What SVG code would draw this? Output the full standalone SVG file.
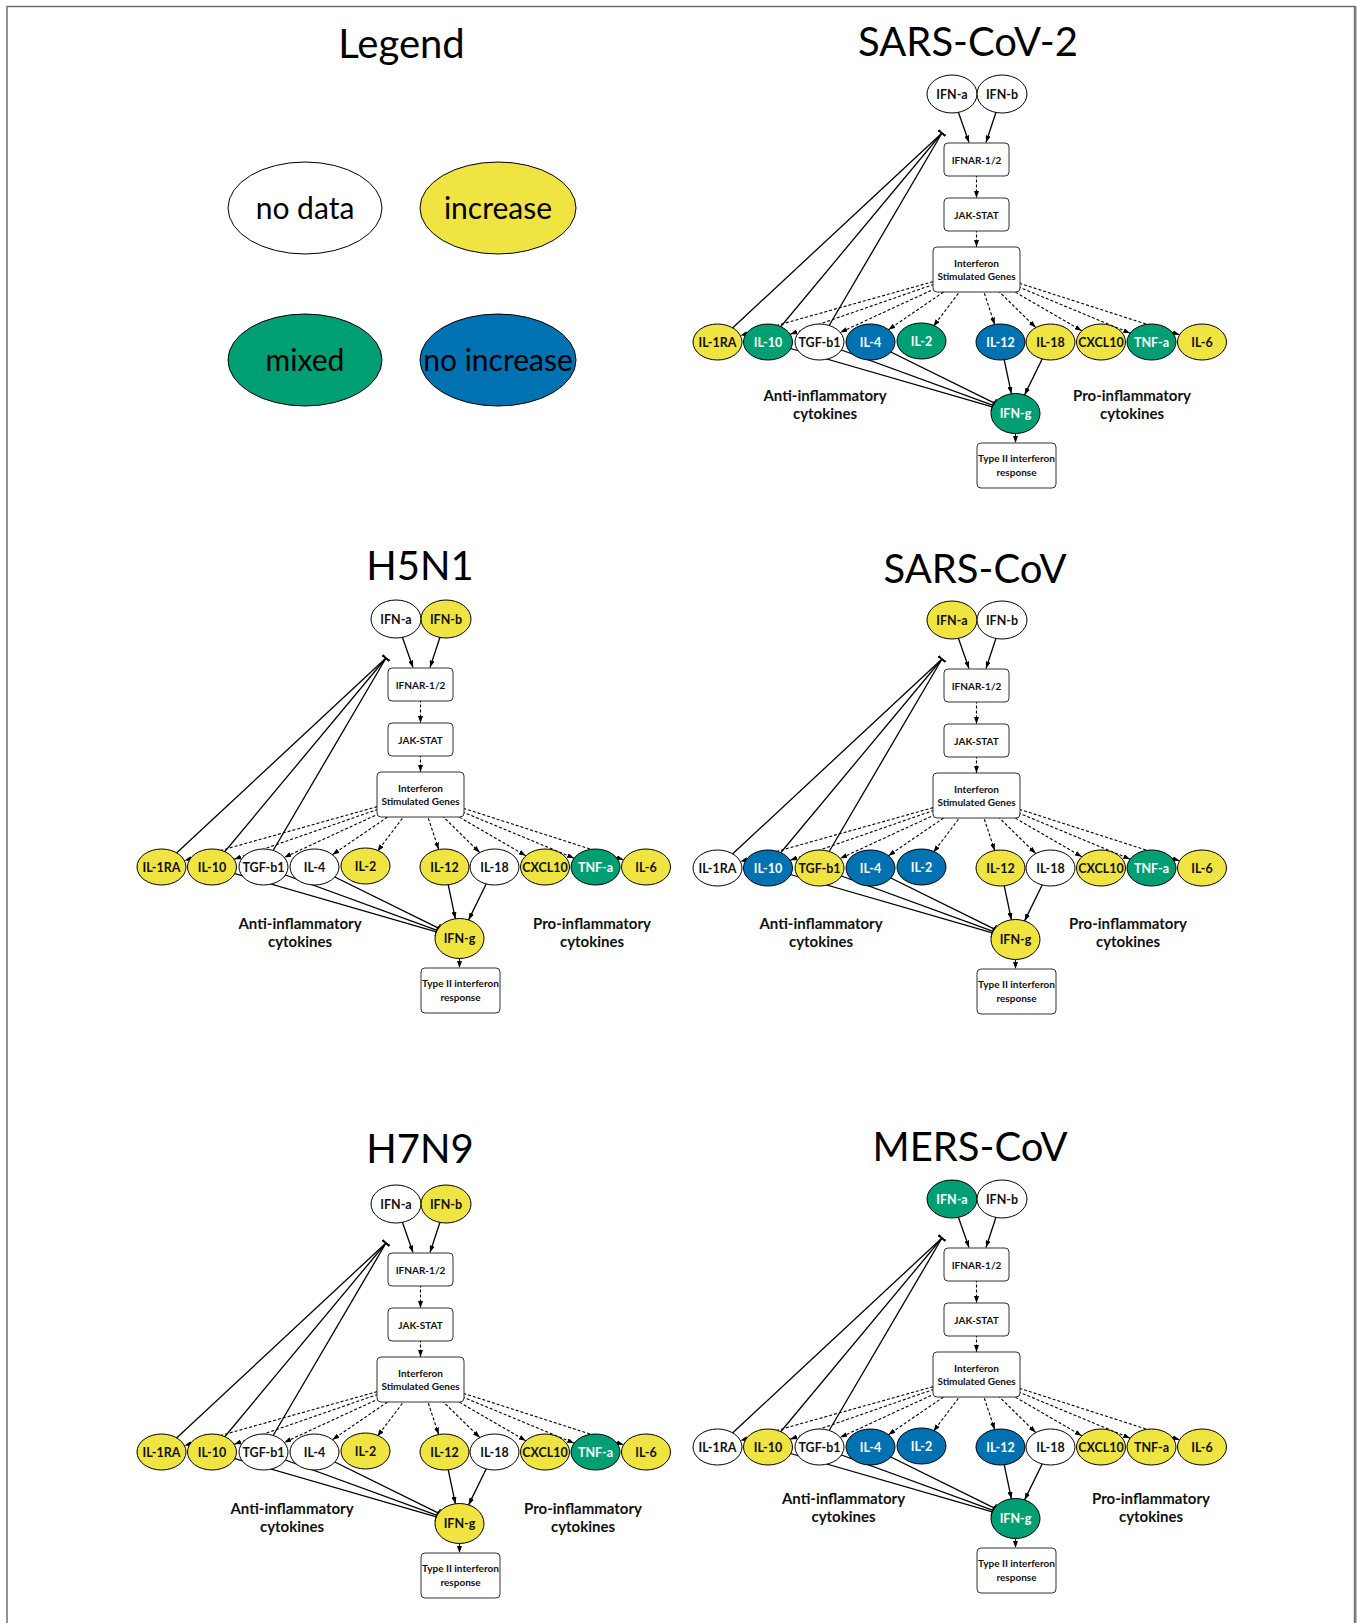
<svg xmlns="http://www.w3.org/2000/svg" width="1363" height="1623" viewBox="0 0 1363 1623">
<style>
.nd{fill:#fff;stroke:#000;stroke-width:1}
.y{fill:#F0E442;stroke:#000;stroke-width:1}
.gr{fill:#009E73;stroke:#000;stroke-width:1}
.bl{fill:#0072B2;stroke:#000;stroke-width:1}
.bx{fill:#fff;stroke:#333;stroke-width:1}
text{font-family:Lato,"Liberation Sans",sans-serif}
.t{font-size:12.5px;font-weight:bold;text-anchor:middle;fill:#111}
.tw{fill:#fff}
.bt{font-size:10px;font-weight:bold;text-anchor:middle;fill:#111}
.title{font-size:40px;text-anchor:middle;fill:#000}
.cat{font-size:15px;font-weight:bold;text-anchor:middle;fill:#111}
.lg{font-size:30px;text-anchor:middle;fill:#000}
.e{fill:none;stroke:#000;stroke-width:1.3}
.d{stroke-dasharray:3 2;stroke-width:1.1}
.a{marker-end:url(#ah)}
.i{marker-end:url(#tee)}
</style>
<defs>
<marker id="ah" viewBox="0 0 7 5" refX="7" refY="2.5" markerWidth="7" markerHeight="5" orient="auto" markerUnits="userSpaceOnUse"><path d="M0,0 L7,2.5 L0,5 Z" fill="#000"/></marker>
<marker id="tee" viewBox="0 0 2 9" refX="1.2" refY="4.5" markerWidth="2" markerHeight="9" orient="auto" markerUnits="userSpaceOnUse"><rect x="0.5" y="0" width="1.3" height="9" fill="#000"/></marker>
</defs>
<rect x="0" y="0" width="1363" height="1623" fill="#fff"/>
<rect x="7" y="6.5" width="1347.5" height="1640" fill="none" stroke="#707070" stroke-width="1.5"/>
<line x1="1355.5" y1="6" x2="1355.5" y2="1623" stroke="#808080" stroke-width="2"/>

<g id="titles">
<text class="title" x="401.5" y="58">Legend</text>
<text class="title" x="968" y="56">SARS-CoV-2</text>
<text class="title" x="420" y="580">H5N1</text>
<text class="title" x="975" y="583">SARS-CoV</text>
<text class="title" x="420" y="1163">H7N9</text>
<text class="title" x="970" y="1161">MERS-CoV</text>
</g>

<g id="legend">
<g id="lg-nodata"><ellipse class="nd" cx="305" cy="208" rx="77" ry="46"/><text class="lg" x="305" y="218.5">no data</text></g>
<g id="lg-increase"><ellipse class="y" cx="498" cy="208" rx="78" ry="46"/><text class="lg" x="498" y="218.5">increase</text></g>
<g id="lg-mixed"><ellipse class="gr" cx="305" cy="360" rx="77" ry="46"/><text class="lg tw" x="305" y="370.5">mixed</text></g>
<g id="lg-noincrease"><ellipse class="bl" cx="498" cy="360" rx="78" ry="46"/><text class="lg tw" x="498" y="370.5">no increase</text></g>
</g>

<g id="connectors">
<g id="c-sars2" transform="translate(0,0)">
<path class="e a" d="M952,94 L969,142.5"/><path class="e a" d="M1002,94 L986,142.5"/>
<path class="e d a" d="M976.5,159.5 V198"/><path class="e d a" d="M976.5,214.5 V247"/>
<path class="e d a" d="M976.5,269.5 L740.4,335.6"/><path class="e d a" d="M976.5,269.5 L790.1,334.3"/><path class="e d a" d="M976.5,269.5 L840.2,332.4"/><path class="e d a" d="M976.5,269.5 L888.4,329.7"/><path class="e d a" d="M976.5,269.5 L933.4,326.3"/><path class="e d a" d="M976.5,269.5 L994.7,324.5"/><path class="e d a" d="M976.5,269.5 L1035.8,327.6"/><path class="e d a" d="M976.5,269.5 L1081.8,330.8"/><path class="e d a" d="M976.5,269.5 L1130.2,333.2"/><path class="e d a" d="M976.5,269.5 L1179.6,334.8"/>
<path class="e a" d="M1000.5,342 L1011.4,393.8"/><path class="e a" d="M1050.5,342 L1024.6,394.9"/>
<path class="e d a" d="M1015.5,413.5 V443"/>
<path class="e i" d="M717.5,342 L942,133"/><path class="e i" d="M768,342 L942,133"/><path class="e i" d="M819.5,342 L942,133"/>
<path class="e i" d="M768,342 L992.4,406.8"/><path class="e i" d="M819.5,342 L993.1,405.3"/><path class="e i" d="M870.5,342 L994.5,403.2"/>
</g>
<g id="c-h5n1" transform="translate(-556,525)">
<path class="e a" d="M952,94 L969,142.5"/><path class="e a" d="M1002,94 L986,142.5"/>
<path class="e d a" d="M976.5,159.5 V198"/><path class="e d a" d="M976.5,214.5 V247"/>
<path class="e d a" d="M976.5,269.5 L740.4,335.6"/><path class="e d a" d="M976.5,269.5 L790.1,334.3"/><path class="e d a" d="M976.5,269.5 L840.2,332.4"/><path class="e d a" d="M976.5,269.5 L888.4,329.7"/><path class="e d a" d="M976.5,269.5 L933.4,326.3"/><path class="e d a" d="M976.5,269.5 L994.7,324.5"/><path class="e d a" d="M976.5,269.5 L1035.8,327.6"/><path class="e d a" d="M976.5,269.5 L1081.8,330.8"/><path class="e d a" d="M976.5,269.5 L1130.2,333.2"/><path class="e d a" d="M976.5,269.5 L1179.6,334.8"/>
<path class="e a" d="M1000.5,342 L1011.4,393.8"/><path class="e a" d="M1050.5,342 L1024.6,394.9"/>
<path class="e d a" d="M1015.5,413.5 V443"/>
<path class="e i" d="M717.5,342 L942,133"/><path class="e i" d="M768,342 L942,133"/><path class="e i" d="M819.5,342 L942,133"/>
<path class="e i" d="M768,342 L992.4,406.8"/><path class="e i" d="M819.5,342 L993.1,405.3"/><path class="e i" d="M870.5,342 L994.5,403.2"/>
</g>
<g id="c-sars" transform="translate(0,526)">
<path class="e a" d="M952,94 L969,142.5"/><path class="e a" d="M1002,94 L986,142.5"/>
<path class="e d a" d="M976.5,159.5 V198"/><path class="e d a" d="M976.5,214.5 V247"/>
<path class="e d a" d="M976.5,269.5 L740.4,335.6"/><path class="e d a" d="M976.5,269.5 L790.1,334.3"/><path class="e d a" d="M976.5,269.5 L840.2,332.4"/><path class="e d a" d="M976.5,269.5 L888.4,329.7"/><path class="e d a" d="M976.5,269.5 L933.4,326.3"/><path class="e d a" d="M976.5,269.5 L994.7,324.5"/><path class="e d a" d="M976.5,269.5 L1035.8,327.6"/><path class="e d a" d="M976.5,269.5 L1081.8,330.8"/><path class="e d a" d="M976.5,269.5 L1130.2,333.2"/><path class="e d a" d="M976.5,269.5 L1179.6,334.8"/>
<path class="e a" d="M1000.5,342 L1011.4,393.8"/><path class="e a" d="M1050.5,342 L1024.6,394.9"/>
<path class="e d a" d="M1015.5,413.5 V443"/>
<path class="e i" d="M717.5,342 L942,133"/><path class="e i" d="M768,342 L942,133"/><path class="e i" d="M819.5,342 L942,133"/>
<path class="e i" d="M768,342 L992.4,406.8"/><path class="e i" d="M819.5,342 L993.1,405.3"/><path class="e i" d="M870.5,342 L994.5,403.2"/>
</g>
<g id="c-h7n9" transform="translate(-556,1110)">
<path class="e a" d="M952,94 L969,142.5"/><path class="e a" d="M1002,94 L986,142.5"/>
<path class="e d a" d="M976.5,159.5 V198"/><path class="e d a" d="M976.5,214.5 V247"/>
<path class="e d a" d="M976.5,269.5 L740.4,335.6"/><path class="e d a" d="M976.5,269.5 L790.1,334.3"/><path class="e d a" d="M976.5,269.5 L840.2,332.4"/><path class="e d a" d="M976.5,269.5 L888.4,329.7"/><path class="e d a" d="M976.5,269.5 L933.4,326.3"/><path class="e d a" d="M976.5,269.5 L994.7,324.5"/><path class="e d a" d="M976.5,269.5 L1035.8,327.6"/><path class="e d a" d="M976.5,269.5 L1081.8,330.8"/><path class="e d a" d="M976.5,269.5 L1130.2,333.2"/><path class="e d a" d="M976.5,269.5 L1179.6,334.8"/>
<path class="e a" d="M1000.5,342 L1011.4,393.8"/><path class="e a" d="M1050.5,342 L1024.6,394.9"/>
<path class="e d a" d="M1015.5,413.5 V443"/>
<path class="e i" d="M717.5,342 L942,133"/><path class="e i" d="M768,342 L942,133"/><path class="e i" d="M819.5,342 L942,133"/>
<path class="e i" d="M768,342 L992.4,406.8"/><path class="e i" d="M819.5,342 L993.1,405.3"/><path class="e i" d="M870.5,342 L994.5,403.2"/>
</g>
<g id="c-mers" transform="translate(0,1105)">
<path class="e a" d="M952,94 L969,142.5"/><path class="e a" d="M1002,94 L986,142.5"/>
<path class="e d a" d="M976.5,159.5 V198"/><path class="e d a" d="M976.5,214.5 V247"/>
<path class="e d a" d="M976.5,269.5 L740.4,335.6"/><path class="e d a" d="M976.5,269.5 L790.1,334.3"/><path class="e d a" d="M976.5,269.5 L840.2,332.4"/><path class="e d a" d="M976.5,269.5 L888.4,329.7"/><path class="e d a" d="M976.5,269.5 L933.4,326.3"/><path class="e d a" d="M976.5,269.5 L994.7,324.5"/><path class="e d a" d="M976.5,269.5 L1035.8,327.6"/><path class="e d a" d="M976.5,269.5 L1081.8,330.8"/><path class="e d a" d="M976.5,269.5 L1130.2,333.2"/><path class="e d a" d="M976.5,269.5 L1179.6,334.8"/>
<path class="e a" d="M1000.5,342 L1011.4,393.8"/><path class="e a" d="M1050.5,342 L1024.6,394.9"/>
<path class="e d a" d="M1015.5,413.5 V443"/>
<path class="e i" d="M717.5,342 L942,133"/><path class="e i" d="M768,342 L942,133"/><path class="e i" d="M819.5,342 L942,133"/>
<path class="e i" d="M768,342 L992.4,406.8"/><path class="e i" d="M819.5,342 L993.1,405.3"/><path class="e i" d="M870.5,342 L994.5,403.2"/>
</g>
</g>

<g id="panel-sars2" transform="translate(0,0)">
<g id="sars2-ifna"><ellipse class="nd" cx="952" cy="94" rx="25" ry="19"/><text class="t" x="952" y="98.5">IFN-a</text></g>
<g id="sars2-ifnb"><ellipse class="nd" cx="1002" cy="94" rx="25" ry="19"/><text class="t" x="1002" y="98.5">IFN-b</text></g>
<g id="sars2-ifnar"><rect class="bx" x="944" y="143" width="65" height="33" rx="4"/><text class="bt" x="976.5" y="163.5">IFNAR-1/2</text></g>
<g id="sars2-jakstat"><rect class="bx" x="944" y="198" width="65" height="33" rx="4"/><text class="bt" x="976.5" y="218.5">JAK-STAT</text></g>
<g id="sars2-isg"><rect class="bx" x="933" y="247" width="87" height="45" rx="4"/><text class="bt" x="976.5" y="266.5">Interferon</text><text class="bt" x="976.5" y="280">Stimulated Genes</text></g>
<g id="sars2-il1ra"><ellipse class="y" cx="717.5" cy="342" rx="24.5" ry="18"/><text class="t" x="717.5" y="346.5">IL-1RA</text></g>
<g id="sars2-il10"><ellipse class="gr" cx="768" cy="342" rx="24.5" ry="18"/><text class="t tw" x="768" y="346.5">IL-10</text></g>
<g id="sars2-tgfb1"><ellipse class="nd" cx="819.5" cy="342" rx="24.5" ry="18"/><text class="t" x="819.5" y="346.5">TGF-b1</text></g>
<g id="sars2-il4"><ellipse class="bl" cx="870.5" cy="342" rx="24.5" ry="18"/><text class="t tw" x="870.5" y="346.5">IL-4</text></g>
<g id="sars2-il2"><ellipse class="gr" cx="921.5" cy="341" rx="24.5" ry="18"/><text class="t tw" x="921.5" y="345.5">IL-2</text></g>
<g id="sars2-il12"><ellipse class="bl" cx="1000.5" cy="342" rx="24.5" ry="18"/><text class="t tw" x="1000.5" y="346.5">IL-12</text></g>
<g id="sars2-il18"><ellipse class="y" cx="1050.5" cy="342" rx="24.5" ry="18"/><text class="t" x="1050.5" y="346.5">IL-18</text></g>
<g id="sars2-cxcl10"><ellipse class="y" cx="1101" cy="342" rx="24.5" ry="18"/><text class="t" x="1101" y="346.5">CXCL10</text></g>
<g id="sars2-tnfa"><ellipse class="gr" cx="1151.5" cy="342" rx="24.5" ry="18"/><text class="t tw" x="1151.5" y="346.5">TNF-a</text></g>
<g id="sars2-il6"><ellipse class="y" cx="1202" cy="342" rx="24.5" ry="18"/><text class="t" x="1202" y="346.5">IL-6</text></g>
<g id="sars2-ifng"><ellipse class="gr" cx="1015.5" cy="413.5" rx="24.5" ry="20"/><text class="t tw" x="1015.5" y="418">IFN-g</text></g>
<g id="sars2-type2"><rect class="bx" x="977" y="443" width="79" height="45" rx="4"/><text class="bt" x="1016.5" y="462">Type II interferon</text><text class="bt" x="1016.5" y="476">response</text></g>
<text class="cat" x="825" y="401">Anti-inflammatory</text><text class="cat" x="825" y="419">cytokines</text>
<text class="cat" x="1132" y="401">Pro-inflammatory</text><text class="cat" x="1132" y="419">cytokines</text>
</g>

<g id="panel-h5n1" transform="translate(-556,525)">
<g id="h5n1-ifna"><ellipse class="nd" cx="952" cy="94" rx="25" ry="19"/><text class="t" x="952" y="98.5">IFN-a</text></g>
<g id="h5n1-ifnb"><ellipse class="y" cx="1002" cy="94" rx="25" ry="19"/><text class="t" x="1002" y="98.5">IFN-b</text></g>
<g id="h5n1-ifnar"><rect class="bx" x="944" y="143" width="65" height="33" rx="4"/><text class="bt" x="976.5" y="163.5">IFNAR-1/2</text></g>
<g id="h5n1-jakstat"><rect class="bx" x="944" y="198" width="65" height="33" rx="4"/><text class="bt" x="976.5" y="218.5">JAK-STAT</text></g>
<g id="h5n1-isg"><rect class="bx" x="933" y="247" width="87" height="45" rx="4"/><text class="bt" x="976.5" y="266.5">Interferon</text><text class="bt" x="976.5" y="280">Stimulated Genes</text></g>
<g id="h5n1-il1ra"><ellipse class="y" cx="717.5" cy="342" rx="24.5" ry="18"/><text class="t" x="717.5" y="346.5">IL-1RA</text></g>
<g id="h5n1-il10"><ellipse class="y" cx="768" cy="342" rx="24.5" ry="18"/><text class="t" x="768" y="346.5">IL-10</text></g>
<g id="h5n1-tgfb1"><ellipse class="nd" cx="819.5" cy="342" rx="24.5" ry="18"/><text class="t" x="819.5" y="346.5">TGF-b1</text></g>
<g id="h5n1-il4"><ellipse class="nd" cx="870.5" cy="342" rx="24.5" ry="18"/><text class="t" x="870.5" y="346.5">IL-4</text></g>
<g id="h5n1-il2"><ellipse class="y" cx="921.5" cy="341" rx="24.5" ry="18"/><text class="t" x="921.5" y="345.5">IL-2</text></g>
<g id="h5n1-il12"><ellipse class="y" cx="1000.5" cy="342" rx="24.5" ry="18"/><text class="t" x="1000.5" y="346.5">IL-12</text></g>
<g id="h5n1-il18"><ellipse class="nd" cx="1050.5" cy="342" rx="24.5" ry="18"/><text class="t" x="1050.5" y="346.5">IL-18</text></g>
<g id="h5n1-cxcl10"><ellipse class="y" cx="1101" cy="342" rx="24.5" ry="18"/><text class="t" x="1101" y="346.5">CXCL10</text></g>
<g id="h5n1-tnfa"><ellipse class="gr" cx="1151.5" cy="342" rx="24.5" ry="18"/><text class="t tw" x="1151.5" y="346.5">TNF-a</text></g>
<g id="h5n1-il6"><ellipse class="y" cx="1202" cy="342" rx="24.5" ry="18"/><text class="t" x="1202" y="346.5">IL-6</text></g>
<g id="h5n1-ifng"><ellipse class="y" cx="1015.5" cy="413.5" rx="24.5" ry="20"/><text class="t" x="1015.5" y="418">IFN-g</text></g>
<g id="h5n1-type2"><rect class="bx" x="977" y="443" width="79" height="45" rx="4"/><text class="bt" x="1016.5" y="462">Type II interferon</text><text class="bt" x="1016.5" y="476">response</text></g>
<text class="cat" x="856" y="404">Anti-inflammatory</text><text class="cat" x="856" y="422">cytokines</text>
<text class="cat" x="1148" y="404">Pro-inflammatory</text><text class="cat" x="1148" y="422">cytokines</text>
</g>

<g id="panel-sars" transform="translate(0,526)">
<g id="sars-ifna"><ellipse class="y" cx="952" cy="94" rx="25" ry="19"/><text class="t" x="952" y="98.5">IFN-a</text></g>
<g id="sars-ifnb"><ellipse class="nd" cx="1002" cy="94" rx="25" ry="19"/><text class="t" x="1002" y="98.5">IFN-b</text></g>
<g id="sars-ifnar"><rect class="bx" x="944" y="143" width="65" height="33" rx="4"/><text class="bt" x="976.5" y="163.5">IFNAR-1/2</text></g>
<g id="sars-jakstat"><rect class="bx" x="944" y="198" width="65" height="33" rx="4"/><text class="bt" x="976.5" y="218.5">JAK-STAT</text></g>
<g id="sars-isg"><rect class="bx" x="933" y="247" width="87" height="45" rx="4"/><text class="bt" x="976.5" y="266.5">Interferon</text><text class="bt" x="976.5" y="280">Stimulated Genes</text></g>
<g id="sars-il1ra"><ellipse class="nd" cx="717.5" cy="342" rx="24.5" ry="18"/><text class="t" x="717.5" y="346.5">IL-1RA</text></g>
<g id="sars-il10"><ellipse class="bl" cx="768" cy="342" rx="24.5" ry="18"/><text class="t tw" x="768" y="346.5">IL-10</text></g>
<g id="sars-tgfb1"><ellipse class="y" cx="819.5" cy="342" rx="24.5" ry="18"/><text class="t" x="819.5" y="346.5">TGF-b1</text></g>
<g id="sars-il4"><ellipse class="bl" cx="870.5" cy="342" rx="24.5" ry="18"/><text class="t tw" x="870.5" y="346.5">IL-4</text></g>
<g id="sars-il2"><ellipse class="bl" cx="921.5" cy="341" rx="24.5" ry="18"/><text class="t tw" x="921.5" y="345.5">IL-2</text></g>
<g id="sars-il12"><ellipse class="y" cx="1000.5" cy="342" rx="24.5" ry="18"/><text class="t" x="1000.5" y="346.5">IL-12</text></g>
<g id="sars-il18"><ellipse class="nd" cx="1050.5" cy="342" rx="24.5" ry="18"/><text class="t" x="1050.5" y="346.5">IL-18</text></g>
<g id="sars-cxcl10"><ellipse class="y" cx="1101" cy="342" rx="24.5" ry="18"/><text class="t" x="1101" y="346.5">CXCL10</text></g>
<g id="sars-tnfa"><ellipse class="gr" cx="1151.5" cy="342" rx="24.5" ry="18"/><text class="t tw" x="1151.5" y="346.5">TNF-a</text></g>
<g id="sars-il6"><ellipse class="y" cx="1202" cy="342" rx="24.5" ry="18"/><text class="t" x="1202" y="346.5">IL-6</text></g>
<g id="sars-ifng"><ellipse class="y" cx="1015.5" cy="413.5" rx="24.5" ry="20"/><text class="t" x="1015.5" y="418">IFN-g</text></g>
<g id="sars-type2"><rect class="bx" x="977" y="443" width="79" height="45" rx="4"/><text class="bt" x="1016.5" y="462">Type II interferon</text><text class="bt" x="1016.5" y="476">response</text></g>
<text class="cat" x="821" y="403">Anti-inflammatory</text><text class="cat" x="821" y="421">cytokines</text>
<text class="cat" x="1128" y="403">Pro-inflammatory</text><text class="cat" x="1128" y="421">cytokines</text>
</g>

<g id="panel-h7n9" transform="translate(-556,1110)">
<g id="h7n9-ifna"><ellipse class="nd" cx="952" cy="94" rx="25" ry="19"/><text class="t" x="952" y="98.5">IFN-a</text></g>
<g id="h7n9-ifnb"><ellipse class="y" cx="1002" cy="94" rx="25" ry="19"/><text class="t" x="1002" y="98.5">IFN-b</text></g>
<g id="h7n9-ifnar"><rect class="bx" x="944" y="143" width="65" height="33" rx="4"/><text class="bt" x="976.5" y="163.5">IFNAR-1/2</text></g>
<g id="h7n9-jakstat"><rect class="bx" x="944" y="198" width="65" height="33" rx="4"/><text class="bt" x="976.5" y="218.5">JAK-STAT</text></g>
<g id="h7n9-isg"><rect class="bx" x="933" y="247" width="87" height="45" rx="4"/><text class="bt" x="976.5" y="266.5">Interferon</text><text class="bt" x="976.5" y="280">Stimulated Genes</text></g>
<g id="h7n9-il1ra"><ellipse class="y" cx="717.5" cy="342" rx="24.5" ry="18"/><text class="t" x="717.5" y="346.5">IL-1RA</text></g>
<g id="h7n9-il10"><ellipse class="y" cx="768" cy="342" rx="24.5" ry="18"/><text class="t" x="768" y="346.5">IL-10</text></g>
<g id="h7n9-tgfb1"><ellipse class="nd" cx="819.5" cy="342" rx="24.5" ry="18"/><text class="t" x="819.5" y="346.5">TGF-b1</text></g>
<g id="h7n9-il4"><ellipse class="nd" cx="870.5" cy="342" rx="24.5" ry="18"/><text class="t" x="870.5" y="346.5">IL-4</text></g>
<g id="h7n9-il2"><ellipse class="y" cx="921.5" cy="341" rx="24.5" ry="18"/><text class="t" x="921.5" y="345.5">IL-2</text></g>
<g id="h7n9-il12"><ellipse class="y" cx="1000.5" cy="342" rx="24.5" ry="18"/><text class="t" x="1000.5" y="346.5">IL-12</text></g>
<g id="h7n9-il18"><ellipse class="nd" cx="1050.5" cy="342" rx="24.5" ry="18"/><text class="t" x="1050.5" y="346.5">IL-18</text></g>
<g id="h7n9-cxcl10"><ellipse class="y" cx="1101" cy="342" rx="24.5" ry="18"/><text class="t" x="1101" y="346.5">CXCL10</text></g>
<g id="h7n9-tnfa"><ellipse class="gr" cx="1151.5" cy="342" rx="24.5" ry="18"/><text class="t tw" x="1151.5" y="346.5">TNF-a</text></g>
<g id="h7n9-il6"><ellipse class="y" cx="1202" cy="342" rx="24.5" ry="18"/><text class="t" x="1202" y="346.5">IL-6</text></g>
<g id="h7n9-ifng"><ellipse class="y" cx="1015.5" cy="413.5" rx="24.5" ry="20"/><text class="t" x="1015.5" y="418">IFN-g</text></g>
<g id="h7n9-type2"><rect class="bx" x="977" y="443" width="79" height="45" rx="4"/><text class="bt" x="1016.5" y="462">Type II interferon</text><text class="bt" x="1016.5" y="476">response</text></g>
<text class="cat" x="848" y="404">Anti-inflammatory</text><text class="cat" x="848" y="422">cytokines</text>
<text class="cat" x="1139" y="404">Pro-inflammatory</text><text class="cat" x="1139" y="422">cytokines</text>
</g>

<g id="panel-mers" transform="translate(0,1105)">
<g id="mers-ifna"><ellipse class="gr" cx="952" cy="94" rx="25" ry="19"/><text class="t tw" x="952" y="98.5">IFN-a</text></g>
<g id="mers-ifnb"><ellipse class="nd" cx="1002" cy="94" rx="25" ry="19"/><text class="t" x="1002" y="98.5">IFN-b</text></g>
<g id="mers-ifnar"><rect class="bx" x="944" y="143" width="65" height="33" rx="4"/><text class="bt" x="976.5" y="163.5">IFNAR-1/2</text></g>
<g id="mers-jakstat"><rect class="bx" x="944" y="198" width="65" height="33" rx="4"/><text class="bt" x="976.5" y="218.5">JAK-STAT</text></g>
<g id="mers-isg"><rect class="bx" x="933" y="247" width="87" height="45" rx="4"/><text class="bt" x="976.5" y="266.5">Interferon</text><text class="bt" x="976.5" y="280">Stimulated Genes</text></g>
<g id="mers-il1ra"><ellipse class="nd" cx="717.5" cy="342" rx="24.5" ry="18"/><text class="t" x="717.5" y="346.5">IL-1RA</text></g>
<g id="mers-il10"><ellipse class="y" cx="768" cy="342" rx="24.5" ry="18"/><text class="t" x="768" y="346.5">IL-10</text></g>
<g id="mers-tgfb1"><ellipse class="nd" cx="819.5" cy="342" rx="24.5" ry="18"/><text class="t" x="819.5" y="346.5">TGF-b1</text></g>
<g id="mers-il4"><ellipse class="bl" cx="870.5" cy="342" rx="24.5" ry="18"/><text class="t tw" x="870.5" y="346.5">IL-4</text></g>
<g id="mers-il2"><ellipse class="bl" cx="921.5" cy="341" rx="24.5" ry="18"/><text class="t tw" x="921.5" y="345.5">IL-2</text></g>
<g id="mers-il12"><ellipse class="bl" cx="1000.5" cy="342" rx="24.5" ry="18"/><text class="t tw" x="1000.5" y="346.5">IL-12</text></g>
<g id="mers-il18"><ellipse class="nd" cx="1050.5" cy="342" rx="24.5" ry="18"/><text class="t" x="1050.5" y="346.5">IL-18</text></g>
<g id="mers-cxcl10"><ellipse class="y" cx="1101" cy="342" rx="24.5" ry="18"/><text class="t" x="1101" y="346.5">CXCL10</text></g>
<g id="mers-tnfa"><ellipse class="y" cx="1151.5" cy="342" rx="24.5" ry="18"/><text class="t" x="1151.5" y="346.5">TNF-a</text></g>
<g id="mers-il6"><ellipse class="y" cx="1202" cy="342" rx="24.5" ry="18"/><text class="t" x="1202" y="346.5">IL-6</text></g>
<g id="mers-ifng"><ellipse class="gr" cx="1015.5" cy="413.5" rx="24.5" ry="20"/><text class="t tw" x="1015.5" y="418">IFN-g</text></g>
<g id="mers-type2"><rect class="bx" x="977" y="443" width="79" height="45" rx="4"/><text class="bt" x="1016.5" y="462">Type II interferon</text><text class="bt" x="1016.5" y="476">response</text></g>
<text class="cat" x="843.5" y="399">Anti-inflammatory</text><text class="cat" x="843.5" y="417">cytokines</text>
<text class="cat" x="1151" y="399">Pro-inflammatory</text><text class="cat" x="1151" y="417">cytokines</text>
</g>
</svg>
